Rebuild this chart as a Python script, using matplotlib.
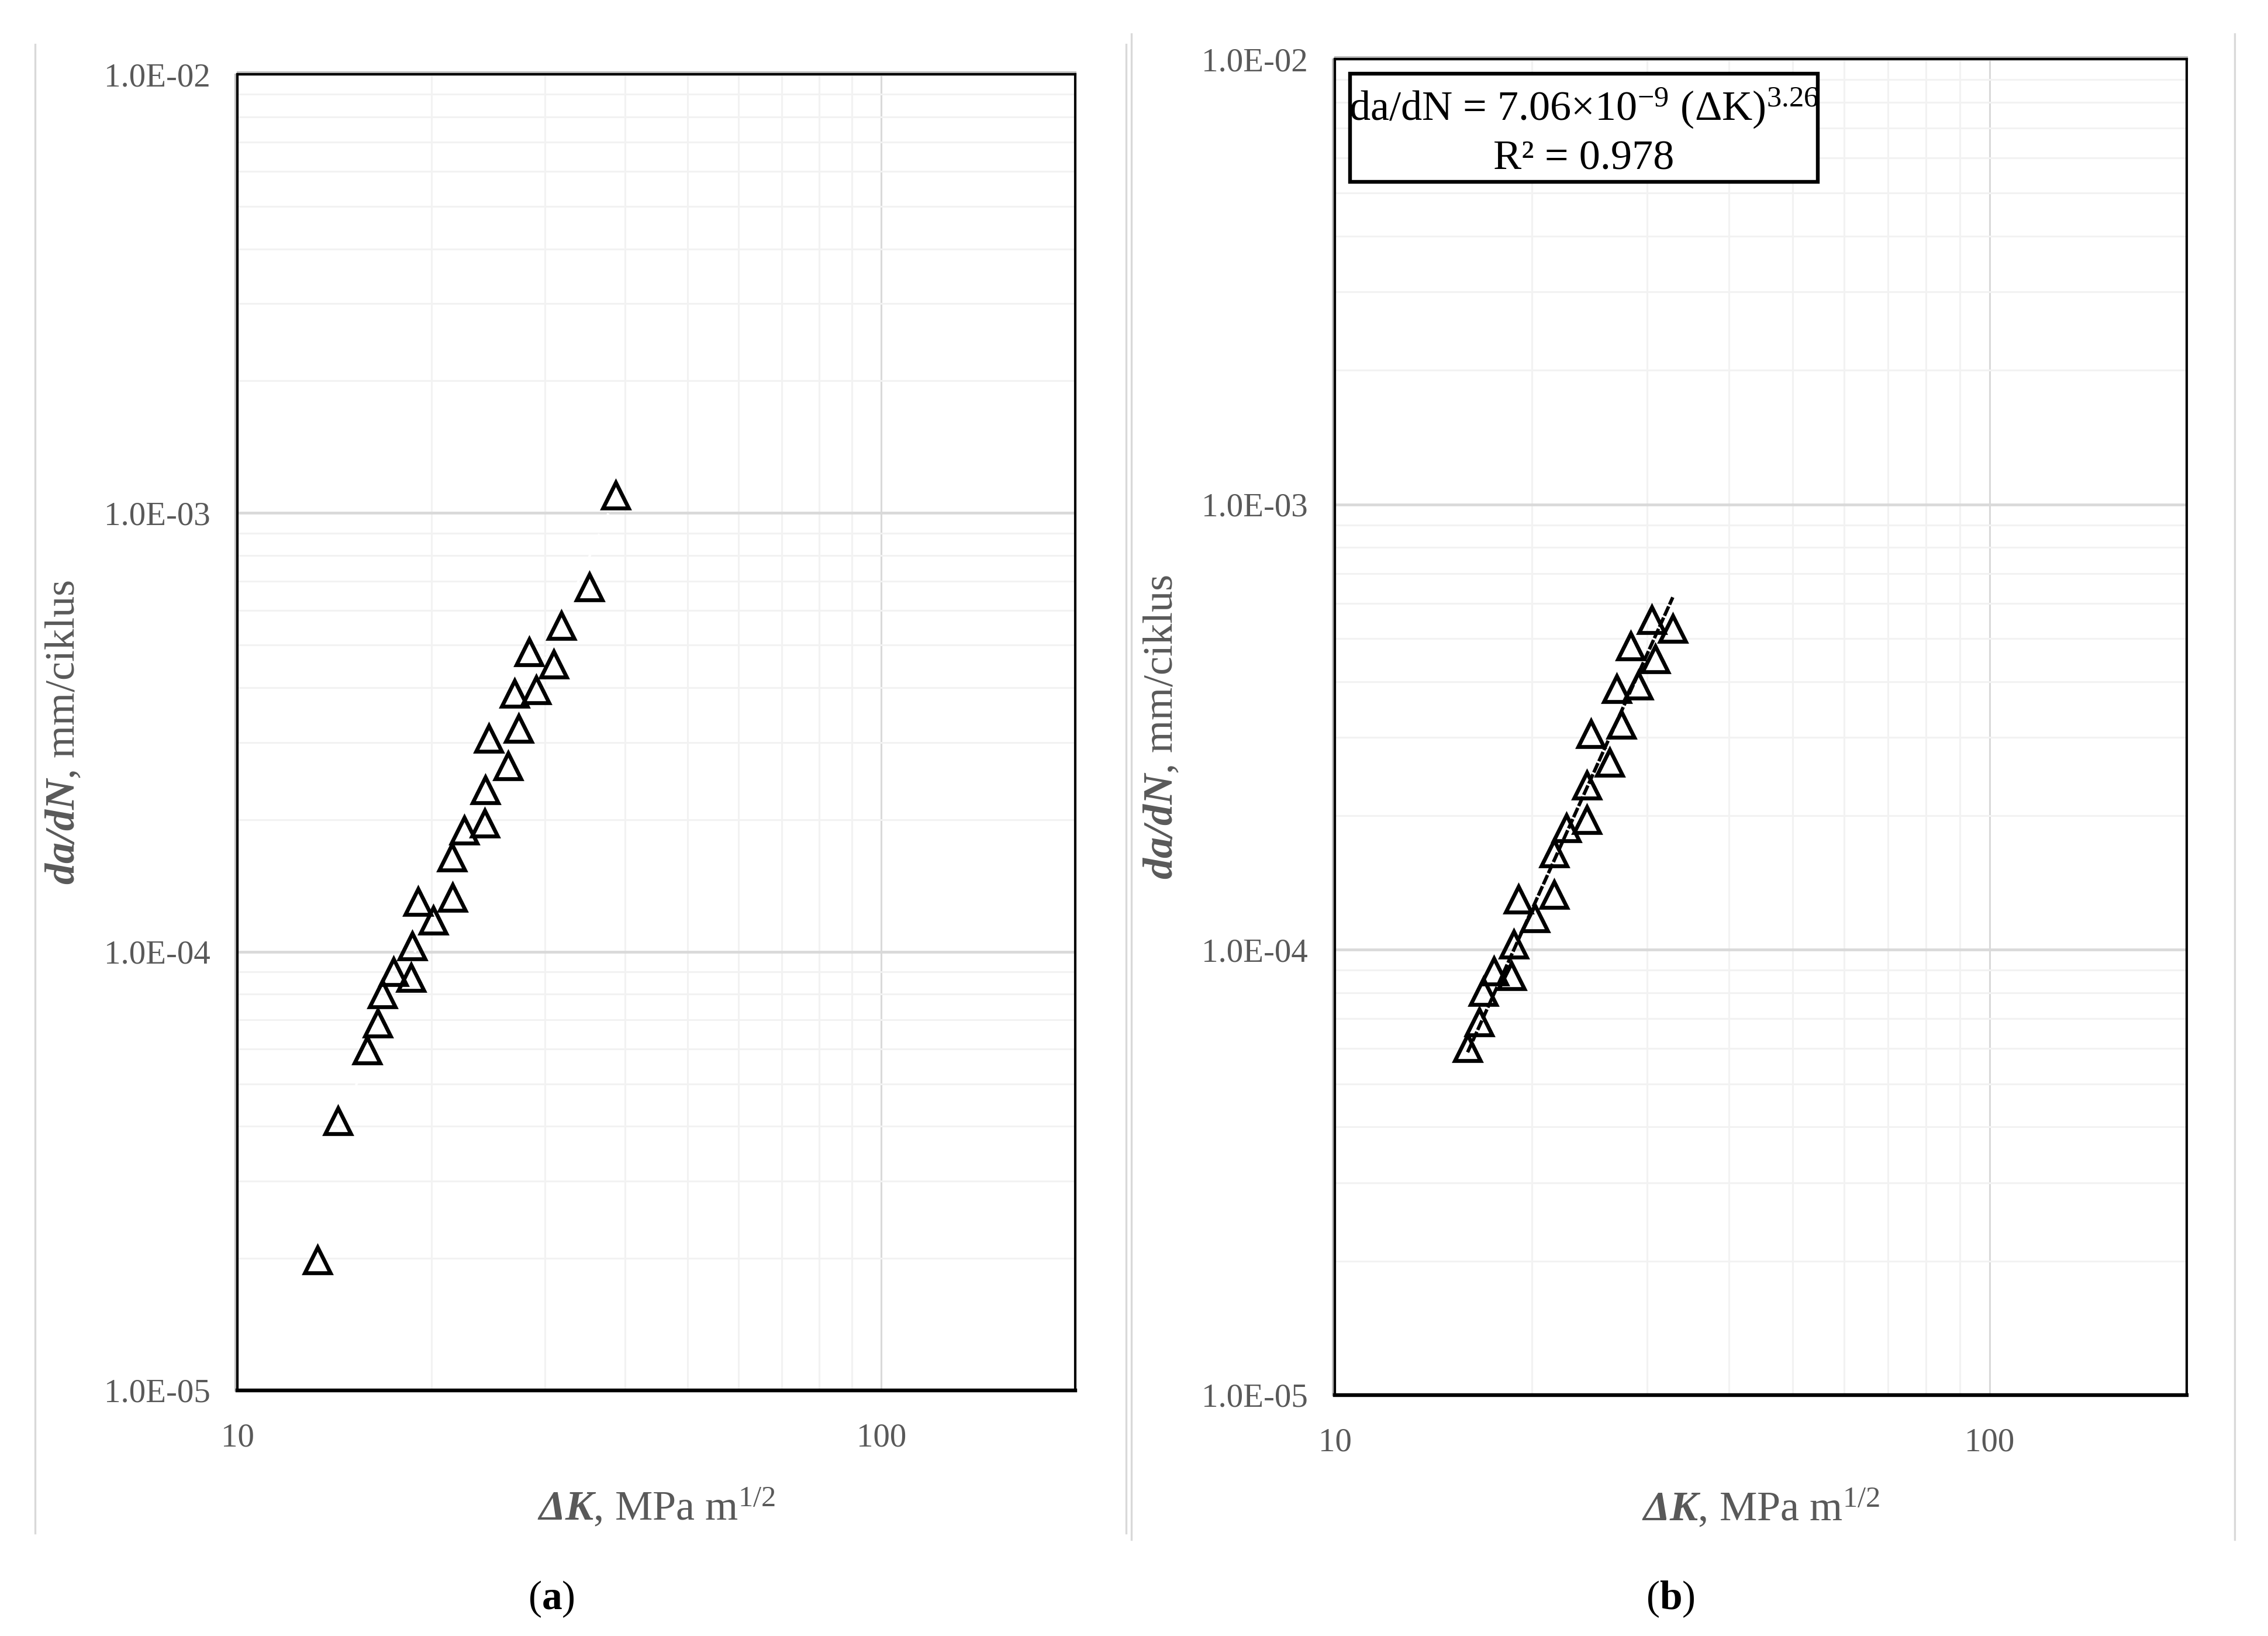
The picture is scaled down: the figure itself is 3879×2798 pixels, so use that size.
import numpy as np
import matplotlib
matplotlib.use("Agg")
import matplotlib.pyplot as plt
from matplotlib.lines import Line2D
from matplotlib.patches import Rectangle
from matplotlib.ticker import FixedLocator, LogLocator, FuncFormatter, NullFormatter

# panel (a): all measured points
dk_a = [13.31, 14.32, 15.90, 16.53, 16.79, 17.47, 18.59, 18.68, 19.06, 20.15,
        21.59, 21.55, 22.52, 24.23, 24.28, 26.30, 24.59, 27.31, 26.96, 29.08,
        28.36, 30.96, 31.85, 35.18, 38.67]
dadn_a = [1.98e-5, 4.11e-5, 5.96e-5, 6.88e-5, 8.02e-5, 8.99e-5, 8.72e-5, 1.03e-4, 1.30e-4, 1.18e-4,
          1.33e-4, 1.64e-4, 1.89e-4, 1.96e-4, 2.34e-4, 2.65e-4, 3.06e-4, 3.23e-4, 3.88e-4, 3.95e-4,
          4.82e-4, 4.52e-4, 5.53e-4, 6.77e-4, 1.096e-3]

# panel (b): Paris-range points with power-law fit
dk_b = [15.95, 16.62, 16.86, 17.49, 18.60, 18.76, 19.07, 20.20, 21.62, 21.62,
        22.57, 24.26, 24.26, 26.29, 24.61, 27.39, 26.94, 29.07, 28.30, 30.85,
        30.47, 32.82]
dadn_b = [6.03e-5, 6.89e-5, 8.04e-5, 8.96e-5, 8.74e-5, 1.03e-4, 1.30e-4, 1.18e-4, 1.33e-4, 1.65e-4,
          1.88e-4, 1.96e-4, 2.34e-4, 2.63e-4, 3.05e-4, 3.21e-4, 3.86e-4, 3.93e-4, 4.81e-4, 4.50e-4,
          5.51e-4, 5.26e-4]
fit_C, fit_m, fit_r2 = 7.06e-9, 3.26, 0.978

GRAY_TXT = "#595959"
plt.rcParams.update({
    "font.family": ["Liberation Serif", "DejaVu Serif"],
    "mathtext.fontset": "custom",
    "mathtext.rm": "Liberation Serif",
    "mathtext.it": "Liberation Serif:italic",
    "mathtext.bf": "Liberation Serif:bold",
    "mathtext.bfit": "Liberation Serif:italic:bold",
})

fig = plt.figure(figsize=(38.8, 27.98), dpi=100)
ax_a = fig.add_axes([0.10464, 0.15011, 0.36933, 0.80450])
ax_b = fig.add_axes([0.58840, 0.14725, 0.37552, 0.81665])


def style(ax, xlab_y, ylab_x):
    ax.set_xscale("log")
    ax.set_yscale("log")
    ax.set_xlim(10, 200)
    ax.set_ylim(1e-5, 1e-2)
    ax.xaxis.set_major_locator(FixedLocator([10, 100]))
    ax.xaxis.set_minor_locator(LogLocator(base=10, subs=np.arange(2, 10), numticks=20))
    ax.yaxis.set_major_locator(FixedLocator([1e-5, 1e-4, 1e-3, 1e-2]))
    ax.yaxis.set_minor_locator(LogLocator(base=10, subs=np.arange(2, 10), numticks=20))
    ax.xaxis.set_major_formatter(FuncFormatter(lambda v, p: f"{v:g}"))
    ax.yaxis.set_major_formatter(FuncFormatter(lambda v, p: f"{v:.1E}"))
    ax.xaxis.set_minor_formatter(NullFormatter())
    ax.yaxis.set_minor_formatter(NullFormatter())
    ax.tick_params(which="both", length=0, labelsize=41, labelcolor=GRAY_TXT)
    ax.tick_params(axis="y", pad=33)
    ax.tick_params(axis="x", pad=40)
    ax.grid(which="minor", color="#f2f2f2", lw=2.2)
    ax.xaxis.grid(which="major", color="#d9d9d9", lw=2.2)
    ax.yaxis.grid(which="major", color="#d9d9d9", lw=3.4)
    ax.set_axisbelow(True)
    for s in ax.spines.values():
        s.set_color("black")
        s.set_linewidth(3.0)
        s.set_zorder(5)
    ax.spines["bottom"].set_linewidth(4.6)
    ax.set_xlabel(r"$\mathbfit{\Delta K}$, MPa m$^{1/2}$", fontsize=52, color=GRAY_TXT)
    ax.xaxis.label.set_verticalalignment("baseline")
    ax.xaxis.set_label_coords(0.5, xlab_y)
    ax.set_ylabel(r"$\mathbfit{da/dN}$, mm/ciklus", fontsize=52, color=GRAY_TXT)
    ax.yaxis.label.set_verticalalignment("center")
    ax.yaxis.set_label_coords(ylab_x, 0.5)
    # light grey axis lines just outside the top and left frame edges
    off = 3.2 / 72 * 100
    top = Line2D([0, 1], [1, 1], color="#bfbfbf", lw=2.2, clip_on=False, zorder=4,
                 transform=ax.transAxes + matplotlib.transforms.Affine2D().translate(0, off))
    left = Line2D([0, 0], [0, 1], color="#bfbfbf", lw=2.2, clip_on=False, zorder=4,
                  transform=ax.transAxes + matplotlib.transforms.Affine2D().translate(-off, 0))
    ax.add_artist(top)
    ax.add_artist(left)


style(ax_a, -0.0986, -0.2066)
style(ax_b, -0.0937, -0.2025)

mk = dict(ls="none", marker="^", ms=32, mfc="none", mec="black", mew=4.8, zorder=4)

# (a) hidden (white) trend line, only visible where it crosses grid lines
la, lb = np.log10(dk_a), np.log10(dadn_a)
sa, ia = np.polyfit(la, lb, 1)
xa = np.array([min(dk_a), max(dk_a)])
ax_a.plot(xa, 10 ** ia * xa ** sa, color="white", lw=3, ls=(0, (1.5, 0.8)), zorder=3)
ax_a.plot(dk_a, dadn_a, **mk)

# (b) power-law fit
xb = np.array([min(dk_b), max(dk_b)])
ax_b.plot(xb, fit_C * xb ** fit_m, color="black", lw=4.2, ls=(0, (3.0, 0.6)), zorder=3)
ax_b.plot(dk_b, dadn_b, **mk)

ax_b.add_patch(Rectangle((0.01784, 0.90810), 0.54906, 0.08096, transform=ax_b.transAxes,
                         facecolor="white", edgecolor="black", lw=4.6, zorder=6))
ax_b.text(0.29238, 0.95405, r"da/dN = 7.06$\times$10$^{-9}$ ($\Delta$K)$^{3.26}$",
          transform=ax_b.transAxes, ha="center", va="baseline", fontsize=52, zorder=7)
ax_b.text(0.29238, 0.91729, f"R² = {fit_r2:.3f}",
          transform=ax_b.transAxes, ha="center", va="baseline", fontsize=52, zorder=7)

# light chart-area edges of the two panels
for x, y0, y1 in [(60, 76, 2622), (1926, 76, 2622), (1935, 58, 2633), (3822, 58, 2633)]:
    fig.add_artist(Line2D([x / 3880, x / 3880], [1 - y0 / 2798, 1 - y1 / 2798],
                          color="#d9d9d9", lw=2.4))

fig.text(943 / 3880, 1 - 2735 / 2798, r"($\mathbf{a}$)", ha="center", va="center", fontsize=50)
fig.text(2857 / 3880, 1 - 2735 / 2798, r"($\mathbf{b}$)", ha="center", va="center", fontsize=50)

fig.savefig("out.png", dpi=100, facecolor="white")
